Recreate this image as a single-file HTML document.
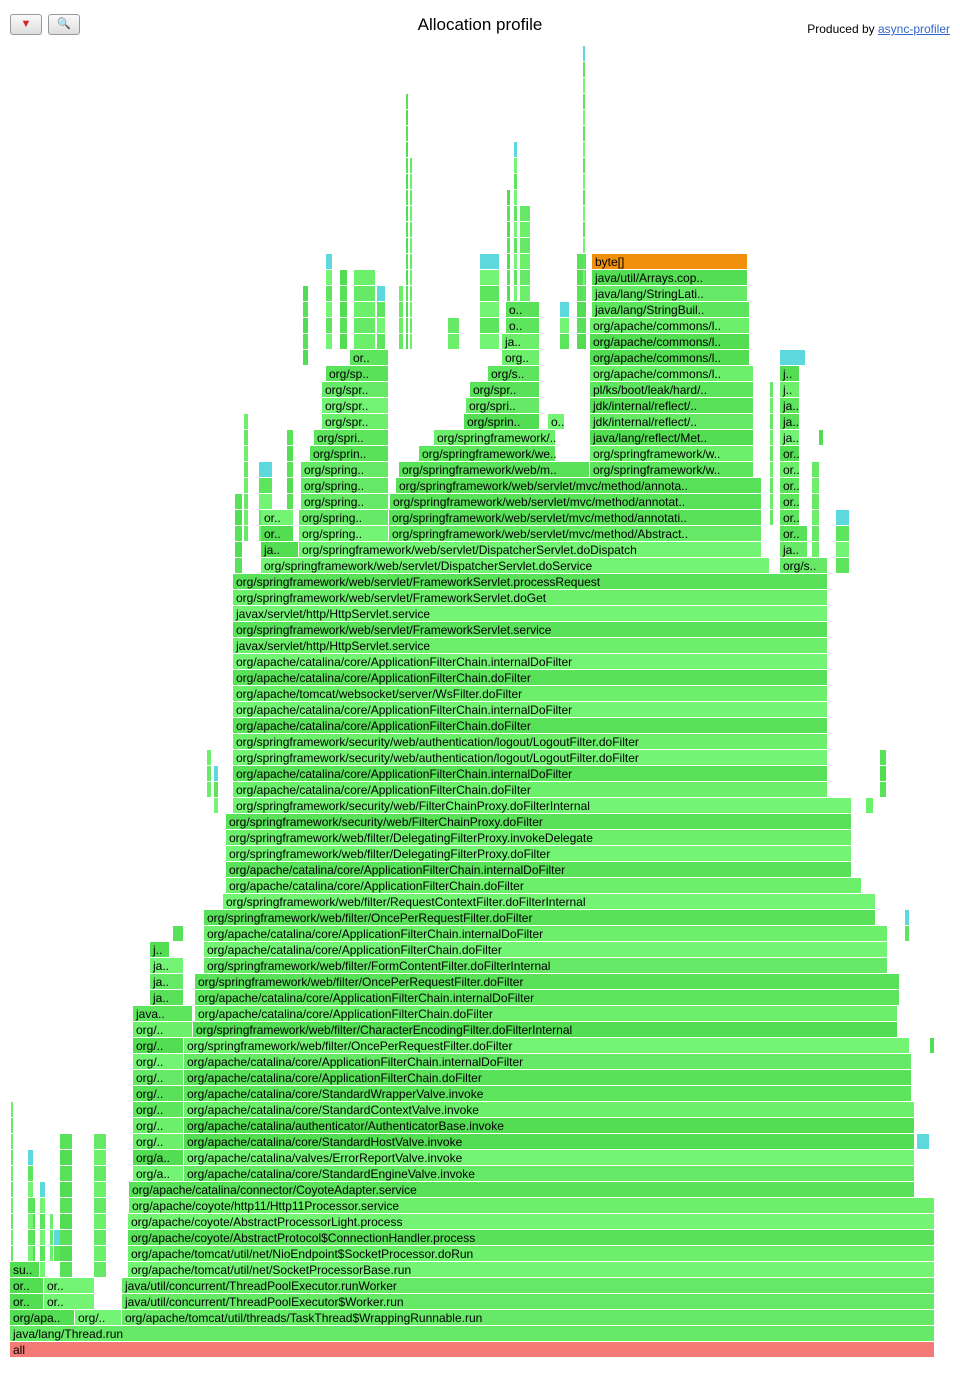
<!DOCTYPE html>
<html><head><meta charset="utf-8"><style>
body{margin:0;background:#fff;font-family:"Liberation Sans",sans-serif;}
#wrap{position:relative;width:960px;height:1395px;overflow:hidden;}
.btn{position:absolute;top:14px;width:30px;height:19px;border:1px solid #999;border-radius:3px;background:linear-gradient(#fafafa,#ddd);font-size:11px;text-align:center;line-height:19px;}
</style></head><body>
<div id="wrap">
<div class="btn" style="left:10px;color:#d22">▼</div>
<div class="btn" style="left:48px">🔍</div>
<div style="position:absolute;top:15px;left:0;width:960px;text-align:center;font-size:17px">Allocation profile</div>
<div style="position:absolute;top:22px;right:10px;font-size:12px">Produced by <span style="color:#36c;text-decoration:underline">async-profiler</span></div>
<svg id="fg" width="960" height="1395" style="position:absolute;left:0;top:0"></svg>
</div>
<script>
const AFC='org/apache/catalina/core/ApplicationFilterChain.doFilter';
const AFI='org/apache/catalina/core/ApplicationFilterChain.internalDoFilter';
const CM='org/apache/commons/l..';
const frameLevels=[
0,
1,
2,2,2,
3,3,3,
4,4,4,
5,5,
6,7,8,9,10,
11,11,
12,12,
13,13,13,
14,14,
15,15,
16,16,
17,17,
18,18,
19,19,
20,20,
21,21,
22,22,
23,23,
24,24,
25,25,
26,27,28,29,30,31,32,33,34,
35,36,37,38,39,40,41,42,43,44,45,46,47,48,
49,49,
50,50,50,
51,51,51,51,
52,52,52,52,
53,53,53,
54,54,54,
55,55,55,55,
56,56,56,56,
57,57,57,57,
58,58,58,58,58,
59,59,59,59,
60,60,60,60,
61,61,61,61,
62,62,62,62,
63,63,
64,64,
65,65,
66,67,68];
const frameStarts=[
0,
0,
0,65,112,
0,34,112,
0,34,112,
0,118,
118,118,118,119,119,
123,174,
123,174,
123,174,907,
123,174,
123,174,
123,174,
123,174,
123,174,
123,174,
123,183,
123,185,
140,185,
140,185,
140,194,
140,194,
194,194,213,216,216,216,216,216,223,
223,223,223,223,223,223,223,223,223,223,223,223,223,223,
251,770,
251,289,770,
251,289,379,770,
251,289,379,770,
291,380,770,
291,386,770,
291,389,580,770,
300,409,580,770,
304,424,580,770,
312,454,538,580,770,
312,456,580,770,
312,460,580,770,
316,478,580,770,
340,492,580,770,
492,580,
496,580,
496,582,
582,582,582];
const frameWidths=[
925,
925,
65,47,813,
34,51,813,
34,51,813,
30,807,
807,807,807,806,786,
51,731,
51,731,
51,731,13,
51,731,
51,731,
51,728,
51,728,
51,728,
51,726,
60,705,
60,703,
34,705,
34,705,
34,684,
20,684,
684,672,653,636,626,626,626,626,619,
595,595,595,595,595,595,595,595,595,595,595,595,595,595,
509,48,
38,463,28,
33,90,373,28,
33,90,373,20,
88,372,20,
88,366,20,
88,191,164,20,
79,137,164,20,
75,122,164,20,
67,76,17,164,20,
67,74,164,20,
67,70,164,20,
63,52,164,20,
39,38,160,26,
38,160,
34,160,
34,158,
156,156,156];
const frameLabels=[
'all',
'java/lang/Thread.run',
'org/apa..','org/..','org/apache/tomcat/util/threads/TaskThread$WrappingRunnable.run',
'or..','or..','java/util/concurrent/ThreadPoolExecutor$Worker.run',
'or..','or..','java/util/concurrent/ThreadPoolExecutor.runWorker',
'su..','org/apache/tomcat/util/net/SocketProcessorBase.run',
'org/apache/tomcat/util/net/NioEndpoint$SocketProcessor.doRun','org/apache/coyote/AbstractProtocol$ConnectionHandler.process','org/apache/coyote/AbstractProcessorLight.process','org/apache/coyote/http11/Http11Processor.service','org/apache/catalina/connector/CoyoteAdapter.service',
'org/a..','org/apache/catalina/core/StandardEngineValve.invoke',
'org/a..','org/apache/catalina/valves/ErrorReportValve.invoke',
'org/..','org/apache/catalina/core/StandardHostValve.invoke','',
'org/..','org/apache/catalina/authenticator/AuthenticatorBase.invoke',
'org/..','org/apache/catalina/core/StandardContextValve.invoke',
'org/..','org/apache/catalina/core/StandardWrapperValve.invoke',
'org/..',AFC,
'org/..',AFI,
'org/..','org/springframework/web/filter/OncePerRequestFilter.doFilter',
'org/..','org/springframework/web/filter/CharacterEncodingFilter.doFilterInternal',
'java..',AFC,
'ja..',AFI,
'ja..','org/springframework/web/filter/OncePerRequestFilter.doFilter',
'ja..','org/springframework/web/filter/FormContentFilter.doFilterInternal',
'j..',AFC,
AFI,'org/springframework/web/filter/OncePerRequestFilter.doFilter','org/springframework/web/filter/RequestContextFilter.doFilterInternal',AFC,AFI,'org/springframework/web/filter/DelegatingFilterProxy.doFilter','org/springframework/web/filter/DelegatingFilterProxy.invokeDelegate','org/springframework/security/web/FilterChainProxy.doFilter','org/springframework/security/web/FilterChainProxy.doFilterInternal',
AFC,AFI,'org/springframework/security/web/authentication/logout/LogoutFilter.doFilter','org/springframework/security/web/authentication/logout/LogoutFilter.doFilter',AFC,AFI,'org/apache/tomcat/websocket/server/WsFilter.doFilter',AFC,AFI,'javax/servlet/http/HttpServlet.service','org/springframework/web/servlet/FrameworkServlet.service','javax/servlet/http/HttpServlet.service','org/springframework/web/servlet/FrameworkServlet.doGet','org/springframework/web/servlet/FrameworkServlet.processRequest',
'org/springframework/web/servlet/DispatcherServlet.doService','org/s..',
'ja..','org/springframework/web/servlet/DispatcherServlet.doDispatch','ja..',
'or..','org/spring..','org/springframework/web/servlet/mvc/method/Abstract..','or..',
'or..','org/spring..','org/springframework/web/servlet/mvc/method/annotati..','or..',
'org/spring..','org/springframework/web/servlet/mvc/method/annotat..','or..',
'org/spring..','org/springframework/web/servlet/mvc/method/annota..','or..',
'org/spring..','org/springframework/web/m..','org/springframework/w..','or..',
'org/sprin..','org/springframework/we..','org/springframework/w..','or..',
'org/spri..','org/springframework/..','java/lang/reflect/Met..','ja..',
'org/spr..','org/sprin..','o..','jdk/internal/reflect/..','ja..',
'org/spr..','org/spri..','jdk/internal/reflect/..','ja..',
'org/spr..','org/spr..','pl/ks/boot/leak/hard/..','j..',
'org/sp..','org/s..',CM,'j..',
'or..','org..',CM,'',
'ja..',CM,
'o..',CM,
'o..','java/lang/StringBuil..',
'java/lang/StringLati..','java/util/Arrays.cop..','byte[]'];
// thin towers: start sample, width, from level, to level
const towerStarts=[573,396,400,504,497,510,316,330,344,367,293,389,470,567,438,550,277,234,249,809,797,826,870,856,895,920,1,18,50,84,30,163,197,204,22,40,44,124,760,775,225,802];
const towerWidths=[3,3,3,4,4,11,7,8,22,9,6,5,20,10,12,10,7,5,14,5,3,14,7,8,5,5,3,6,13,13,6,11,5,5,4,4,8,4,4,4,8,8];
const towerFrom=[66,63,63,66,66,66,63,63,63,63,62,63,63,63,63,63,51,51,51,57,63,49,35,34,26,19,6,5,5,5,5,26,35,34,6,6,6,10,52,52,49,49];
const towerTo=[81,78,74,75,72,71,68,67,67,66,66,66,68,68,64,65,57,58,55,57,62,52,37,34,27,19,15,12,13,13,10,26,37,36,9,8,7,10,60,58,53,55];

const svg=document.getElementById('fg');
const NS='http://www.w3.org/2000/svg';
const X0=10,SCALE=1,BASEY=1342,ROWH=16;
const xPos=s=>X0+s*SCALE;
const yPos=l=>BASEY-l*ROWH;
const greens=['#5ee55e','#6cf06c','#52dd52','#74f474','#66e966','#5ae15a'];
function color(i,l){ if(l===0)return '#f47a77'; if(l===68)return '#f0900b'; return greens[(i*7+l*3)%greens.length]; }
frameLevels.forEach((l,i)=>{
  const g=document.createElementNS(NS,'g');
  
  
  const x=xPos(frameStarts[i]),w=frameWidths[i]*SCALE,y=yPos(l);
  const r=document.createElementNS(NS,'rect');
  r.setAttribute('x',x);r.setAttribute('y',y);r.setAttribute('width',Math.max(w-1,1));r.setAttribute('height',15);
  r.setAttribute('fill',frameLabels[i]===''?'#5dd9dd':color(i,l));
  g.appendChild(r);
  if(frameLabels[i]){
    const t=document.createElementNS(NS,'text');
    
    
    t.setAttribute('x',x+3);t.setAttribute('y',y+12);t.setAttribute('font-size','12');
    t.setAttribute('font-family','Liberation Sans, sans-serif');t.setAttribute('fill','#000');
    t.textContent=frameLabels[i];g.appendChild(t);
  }
  svg.appendChild(g);
});
towerStarts.forEach((s,i)=>{
  for(let l=towerFrom[i];l<=towerTo[i];l++){
    const r=document.createElementNS(NS,'rect');
    
    
    r.setAttribute('x',xPos(s));r.setAttribute('y',yPos(l));
    r.setAttribute('width',Math.max(towerWidths[i]*SCALE-1,1));r.setAttribute('height',15);
    r.setAttribute('fill',(l===towerTo[i]&&i%3===0)?'#5dd9dd':greens[(i*5+l*3)%greens.length]);
    svg.insertBefore(r,svg.firstChild);
  }
});
</script>
</body></html>
